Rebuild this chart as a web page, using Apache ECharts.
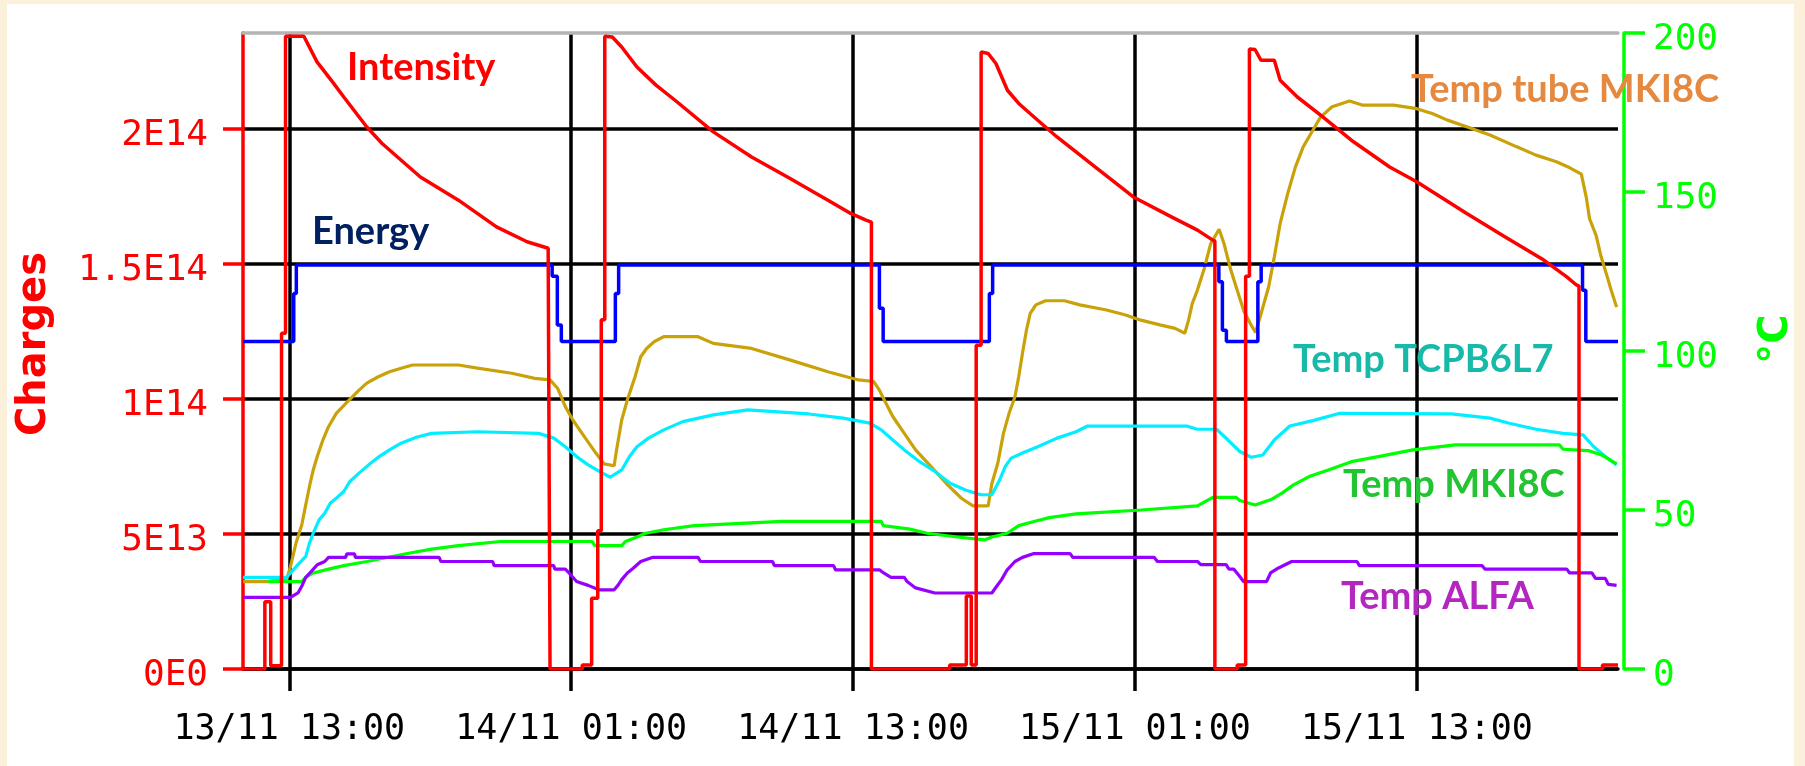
<!DOCTYPE html>
<html>
<head>
<meta charset="utf-8">
<title>Intensity, energy and temperatures</title>
<script src="https://cdn.jsdelivr.net/npm/echarts@6/dist/echarts.min.js"></script>
<style>
  html, body { margin: 0; padding: 0; background: #fbf0d9; }
  #chart { width: 1805px; height: 766px; }
</style>
</head>
<body>
<div id="chart"></div>
<script>
// time is in hours counted from 13/11 00:00
const timeStart = 11.03;
const timeEnd = 69.56;
const timeTicks = [13, 25, 37, 49, 61];
const timeTickLabels = ['13/11 13:00', '14/11 01:00', '14/11 13:00', '15/11 01:00', '15/11 13:00'];

// left axis, in units of 1E14 charges
const chargeMax = 2.355;
const chargeTicks = [0, 0.5, 1, 1.5, 2];
const chargeTickLabels = ['0E0', '5E13', '1E14', '1.5E14', '2E14'];

// right axis, degrees C
const tempMax = 200;
const tempInterval = 50;

// beam intensity [h, 1E14 charges]
const intensity = [
  [11.03, 0], [11.96, 0], [11.96, 0.249], [12.21, 0.249], [12.21, 0.012], [12.67, 0.012],
  [12.67, 1.243], [12.84, 1.243], [12.84, 2.343], [13.62, 2.343], [14.18, 2.248], [14.84, 2.174],
  [15.32, 2.118], [16.30, 2.007], [16.95, 1.946], [18.58, 1.822], [20.20, 1.736], [21.82, 1.637],
  [23.12, 1.582], [24.02, 1.558], [24.10, 1.555], [24.10, 0], [25.47, 0], [25.47, 0.015],
  [25.87, 0.015], [25.87, 0.262], [26.13, 0.262], [26.13, 0.512], [26.28, 0.512], [26.28, 1.293],
  [26.43, 1.293], [26.43, 2.343], [26.75, 2.340], [27.15, 2.303], [27.80, 2.229], [28.61, 2.162],
  [29.42, 2.106], [31.05, 1.989], [32.68, 1.896], [34.30, 1.817], [35.93, 1.736], [36.90, 1.687],
  [37.55, 1.662], [37.78, 1.655], [37.78, 0], [41.11, 0], [41.11, 0.015], [41.82, 0.015],
  [41.82, 0.27], [42.03, 0.27], [42.03, 0.015], [42.24, 0.015], [42.24, 1.199], [42.45, 1.199],
  [42.45, 2.285], [42.75, 2.279], [43.08, 2.242], [43.57, 2.143], [44.05, 2.094], [44.86, 2.032],
  [45.68, 1.970], [47.30, 1.859], [48.93, 1.748], [50.55, 1.674], [51.66, 1.625], [52.31, 1.588],
  [52.40, 1.585], [52.40, 0], [53.35, 0], [53.35, 0.015], [53.71, 0.015], [53.71, 1.454],
  [53.87, 1.454], [53.87, 2.296], [54.11, 2.294], [54.36, 2.254], [54.93, 2.254], [55.18, 2.180],
  [55.91, 2.118], [56.90, 2.051], [58.21, 1.958], [59.84, 1.859], [60.99, 1.804], [63.12, 1.687],
  [64.76, 1.600], [66.40, 1.514], [67.38, 1.452], [67.79, 1.422], [67.90, 1.418], [67.90, 0],
  [68.90, 0], [68.90, 0.015], [69.56, 0.015]
];

// beam energy, drawn on the left scale: [h, level] held until the next point
const energy = [
  [11.03, 1.213], [13.19, 1.39], [13.30, 1.496], [24.19, 1.454], [24.41, 1.274], [24.58, 1.213],
  [26.88, 1.39], [27.02, 1.496], [38.12, 1.336], [38.28, 1.213], [42.80, 1.39], [42.94, 1.496],
  [52.57, 1.434], [52.72, 1.254], [52.89, 1.213], [54.23, 1.434], [54.37, 1.496], [68.05, 1.402],
  [68.19, 1.213], [69.56, 1.213]
];

// temperatures [h, degC]
const tempTubeMKI8C = [
  [11.03, 27.5], [12.07, 27.5], [12.9, 28.5], [13.05, 32.2], [13.29, 39.7], [13.53, 45.3],
  [13.70, 51.6], [13.86, 57.4], [14.02, 62.6], [14.19, 66.8], [14.43, 72.0], [14.67, 76.2],
  [15.00, 80.4], [15.48, 84.1], [15.97, 87.7], [16.30, 89.9], [16.79, 91.9], [17.27, 93.5],
  [17.76, 94.6], [18.25, 95.6], [20.20, 95.6], [21.01, 94.6], [22.47, 93.0], [23.45, 91.4],
  [24.10, 90.9], [24.42, 88.3], [24.75, 82.5], [25.07, 78.3], [25.56, 73.1], [26.05, 67.9],
  [26.40, 64.5], [26.83, 63.9], [26.91, 67.9], [27.15, 78.3], [27.39, 84.6], [27.72, 91.9],
  [27.96, 98.2], [28.21, 100.8], [28.53, 102.9], [28.94, 104.5], [30.40, 104.5], [31.05, 102.4],
  [32.68, 100.8], [34.30, 97.2], [35.93, 93.5], [37.23, 90.9], [37.88, 90.4], [38.12, 87.7],
  [38.36, 84.1], [38.69, 79.4], [39.18, 74.1], [39.66, 68.9], [40.31, 63.7], [40.96, 58.4],
  [41.61, 53.7], [42.10, 51.3], [42.75, 51.3], [42.91, 58.4], [43.16, 64.7], [43.40, 74.1],
  [43.64, 80.4], [43.89, 85.6], [44.05, 91.9], [44.21, 99.3], [44.38, 106.6], [44.54, 111.8],
  [44.78, 114.5], [45.19, 115.8], [46.00, 115.8], [46.65, 114.5], [47.79, 112.9], [48.60, 111.3],
  [49.25, 109.7], [50.06, 108.2], [50.71, 107.1], [51.12, 105.6], [51.28, 109.7], [51.44, 115.0],
  [51.65, 119.0], [51.94, 125.7], [52.22, 133.7], [52.58, 138.3], [52.79, 133.7], [53.07, 125.7],
  [53.35, 119.1], [53.64, 112.4], [53.92, 108.5], [54.13, 105.8], [54.34, 111.1], [54.69, 120.2],
  [54.93, 129.6], [55.18, 140.1], [55.50, 149.5], [55.83, 157.9], [56.16, 164.2], [56.49, 168.4],
  [56.90, 173.6], [57.39, 176.8], [58.13, 178.6], [58.70, 177.3], [60.01, 177.3], [60.99, 176.2],
  [61.65, 174.7], [62.30, 172.6], [63.12, 170.5], [64.11, 167.9], [65.25, 164.2], [66.07, 161.6],
  [66.94, 159.5], [67.51, 157.6], [68.00, 155.6], [68.21, 148.3], [68.35, 141.6], [68.63, 136.3],
  [68.84, 129.7], [69.06, 124.4], [69.27, 119.1], [69.50, 113.8]
];

const tempTCPB6L7 = [
  [11.03, 28.8], [12.88, 28.8], [13.05, 30.2], [13.37, 32.8], [13.70, 35.4], [13.86, 39.6],
  [14.02, 42.7], [14.27, 46.9], [14.51, 49.0], [14.75, 52.2], [15.00, 53.7], [15.32, 55.8],
  [15.57, 58.9], [15.97, 61.6], [16.38, 64.2], [16.79, 66.6], [17.27, 68.9], [17.76, 71.0],
  [18.41, 72.9], [19.06, 74.1], [21.01, 74.6], [23.61, 74.1], [24.26, 72.6], [24.75, 69.9],
  [25.23, 66.8], [25.72, 64.2], [26.18, 62.2], [26.66, 60.3], [27.15, 62.6], [27.48, 66.8],
  [27.80, 69.9], [28.29, 72.6], [28.94, 75.2], [29.75, 77.8], [31.05, 79.9], [32.51, 81.5],
  [35.11, 80.2], [36.58, 78.9], [37.71, 77.3], [38.20, 75.2], [38.69, 72.0], [39.18, 68.9],
  [39.83, 65.2], [40.48, 62.1], [41.13, 58.4], [41.78, 56.3], [42.43, 54.8], [42.91, 54.8],
  [43.24, 59.5], [43.48, 63.7], [43.73, 66.3], [44.21, 67.9], [44.86, 69.9], [45.68, 72.6],
  [46.49, 74.6], [46.98, 76.4], [51.20, 76.4], [51.65, 75.4], [52.47, 75.4], [52.96, 72.0],
  [53.46, 68.4], [53.95, 66.6], [54.44, 67.3], [54.93, 72.0], [55.59, 76.4], [56.57, 78.1],
  [57.72, 80.4], [62.47, 80.2], [64.11, 78.9], [64.93, 77.3], [66.07, 75.4], [67.22, 74.1],
  [68.07, 73.6], [68.53, 69.9], [69.02, 66.8], [69.50, 64.2]
];

const tempMKI8C = [
  [12.10, 27.5], [13.53, 27.5], [13.70, 28.8], [14.02, 30.2], [14.67, 31.4], [15.32, 32.5],
  [16.30, 33.8], [18.08, 36.4], [19.06, 37.7], [20.20, 38.8], [21.99, 40.1], [25.90, 40.1],
  [26.00, 38.8], [27.15, 38.8], [27.31, 40.1], [27.80, 41.5], [28.13, 42.6], [28.94, 43.8],
  [30.24, 45.1], [33.98, 46.4], [38.20, 46.4], [38.28, 45.1], [39.42, 44.0], [40.15, 42.7],
  [41.45, 41.5], [42.59, 40.6], [42.91, 41.5], [43.56, 42.7], [44.05, 45.1], [44.70, 46.4],
  [45.35, 47.6], [46.49, 48.8], [49.25, 50.0], [51.66, 51.3], [52.31, 54.0], [53.29, 54.0],
  [53.46, 53.0], [54.11, 51.6], [54.77, 53.2], [55.26, 55.3], [55.75, 57.9], [56.41, 60.5],
  [57.23, 62.6], [58.21, 65.2], [59.52, 67.0], [60.83, 68.9], [62.63, 70.5], [67.06, 70.5],
  [67.22, 69.1], [68.29, 68.7], [68.86, 67.3], [69.50, 64.5]
];

const tempALFA = [
  [11.03, 22.5], [13.05, 22.5], [13.37, 23.9], [13.53, 26.0], [13.70, 28.8], [13.94, 30.7],
  [14.19, 32.8], [14.51, 33.8], [14.67, 35.1], [15.40, 35.1], [15.45, 36.2], [15.78, 36.2],
  [15.81, 35.1], [19.38, 35.1], [19.45, 33.8], [21.66, 33.8], [21.72, 32.5], [24.26, 32.5],
  [24.30, 31.4], [24.75, 31.4], [24.91, 30.2], [25.23, 27.5], [25.72, 26.3], [26.18, 24.9],
  [26.83, 24.9], [26.99, 26.3], [27.15, 28.1], [27.39, 30.2], [27.64, 31.7], [27.96, 33.8],
  [28.45, 35.1], [30.40, 35.1], [30.50, 33.8], [33.57, 33.8], [33.65, 32.5], [36.17, 32.5],
  [36.25, 31.2], [38.12, 31.2], [38.30, 30.2], [38.61, 28.8], [39.18, 28.8], [39.30, 27.5],
  [39.66, 25.5], [40.48, 23.9], [42.91, 23.9], [43.08, 25.7], [43.32, 28.1], [43.56, 31.2],
  [43.89, 33.8], [44.21, 35.1], [44.70, 36.3], [46.24, 36.3], [46.35, 35.1], [49.82, 35.1],
  [49.95, 33.8], [51.66, 33.8], [51.80, 32.8], [52.88, 32.8], [53.00, 31.4], [53.21, 31.4],
  [53.46, 29.1], [53.62, 27.5], [54.60, 27.5], [54.77, 30.2], [55.09, 31.7], [55.67, 33.8],
  [58.45, 33.8], [58.55, 32.5], [63.78, 32.5], [63.90, 31.4], [67.38, 31.4], [67.50, 30.2],
  [68.45, 30.2], [68.60, 28.5], [69.02, 28.5], [69.15, 26.6], [69.50, 26.3]
];

const chart = echarts.init(document.getElementById('chart'));

const monoFont = 'DejaVu Sans Mono';

// series name labels written on the plot
const annotations = [
  { text: 'Intensity', x: 347, y: 68, color: '#ff0000' },
  { text: 'Energy', x: 312, y: 232, color: '#002060' },
  { text: 'Temp tube MKI8C', x: 1411, y: 90, color: '#e4893f' },
  { text: 'Temp TCPB6L7', x: 1293, y: 360, color: '#17b9a8' },
  { text: 'Temp MKI8C', x: 1343, y: 485, color: '#22c432' },
  { text: 'Temp ALFA', x: 1341, y: 597, color: '#b326bf' }
];

function lineSeries(name, data, color, yAxisIndex, width, extra) {
  return Object.assign({
    name: name,
    type: 'line',
    data: data,
    yAxisIndex: yAxisIndex,
    symbol: 'none',
    silent: true,
    lineStyle: { color: color, width: width }
  }, extra || {});
}

const option = {
  animation: false,
  backgroundColor: '#fbf0d9',
  grid: { left: 243, right: 183, top: 33, bottom: 97, containLabel: false },
  xAxis: [
    {
      type: 'value',
      min: timeStart,
      max: timeEnd,
      position: 'bottom',
      axisLine: { onZero: false, lineStyle: { color: '#000', width: 3.5 } },
      axisTick: { show: true, customValues: timeTicks, length: 22, lineStyle: { color: '#000', width: 3.5 } },
      axisLabel: {
        customValues: timeTicks,
        formatter: function (v) {
          const i = timeTicks.indexOf(v);
          return i >= 0 ? timeTickLabels[i] : '';
        },
        color: '#000',
        fontFamily: monoFont,
        fontSize: 35,
        margin: 43
      },
      splitLine: { show: true, lineStyle: { color: '#000', width: 3.5 } }
    },
    {
      // grey frame line along the top of the plot
      type: 'value',
      min: timeStart,
      max: timeEnd,
      position: 'top',
      axisLine: { onZero: false, lineStyle: { color: '#b4b4b4', width: 3.5 } },
      axisTick: { show: false },
      axisLabel: { show: false },
      splitLine: { show: false }
    }
  ],
  yAxis: [
    {
      type: 'value',
      position: 'left',
      min: 0,
      max: chargeMax,
      name: 'Charges',
      nameLocation: 'middle',
      nameRotate: 90,
      nameGap: 188,
      nameTextStyle: {
        color: '#ff0000',
        fontFamily: 'DejaVu Sans',
        fontWeight: 'bold',
        fontSize: 40,
        padding: [0, 0, 0, 14]
      },
      axisLine: { show: true, lineStyle: { color: '#ff0000', width: 3.5 } },
      axisTick: { show: true, customValues: chargeTicks, length: 20, lineStyle: { color: '#ff0000', width: 3.5 } },
      axisLabel: {
        customValues: chargeTicks,
        formatter: function (v) {
          const i = chargeTicks.indexOf(v);
          return i >= 0 ? chargeTickLabels[i] : '';
        },
        color: '#ff0000',
        fontFamily: monoFont,
        fontSize: 36,
        margin: 35,
        verticalAlign: 'top',
        lineHeight: 14
      },
      splitLine: { show: true, lineStyle: { color: '#000', width: 3.5 } }
    },
    {
      type: 'value',
      position: 'right',
      offset: 6,
      min: 0,
      max: tempMax,
      interval: tempInterval,
      name: '°C',
      nameLocation: 'middle',
      nameRotate: 90,
      nameGap: 133,
      nameTextStyle: {
        color: '#00ff00',
        fontFamily: 'DejaVu Sans',
        fontWeight: 'bold',
        fontSize: 40,
        padding: [0, 0, 0, 24]
      },
      axisLine: { show: true, lineStyle: { color: '#00ff00', width: 3.5 } },
      axisTick: { show: true, length: 21, lineStyle: { color: '#00ff00', width: 3.5 } },
      axisLabel: {
        color: '#00ff00',
        fontFamily: monoFont,
        fontSize: 36,
        margin: 29,
        verticalAlign: 'top',
        lineHeight: 14
      },
      splitLine: { show: false }
    }
  ],
  series: [
    lineSeries('Temp tube MKI8C', tempTubeMKI8C, '#c9a20a', 1, 3.2),
    lineSeries('Temp TCPB6L7', tempTCPB6L7, '#00eeff', 1, 3.2),
    lineSeries('Temp MKI8C', tempMKI8C, '#00ff00', 1, 3.2),
    lineSeries('Temp ALFA', tempALFA, '#9600ff', 1, 3.2),
    lineSeries('Energy', energy, '#0000ff', 0, 3.5, { step: 'end' }),
    lineSeries('Intensity', intensity, '#ff0000', 0, 3.5)
  ],
  graphic: [
    {
      type: 'rect',
      z: -10,
      silent: true,
      shape: { x: 7, y: 4, width: 1787, height: 762 },
      style: { fill: '#ffffff' }
    }
  ].concat(annotations.map(function (a) {
    return {
      type: 'text',
      z: 100,
      silent: true,
      x: a.x,
      y: a.y,
      style: {
        text: a.text,
        fill: a.color,
        font: 'bold 38px Lato',
        align: 'left',
        verticalAlign: 'middle'
      }
    };
  }))
};

chart.setOption(option);
</script>
</body>
</html>
